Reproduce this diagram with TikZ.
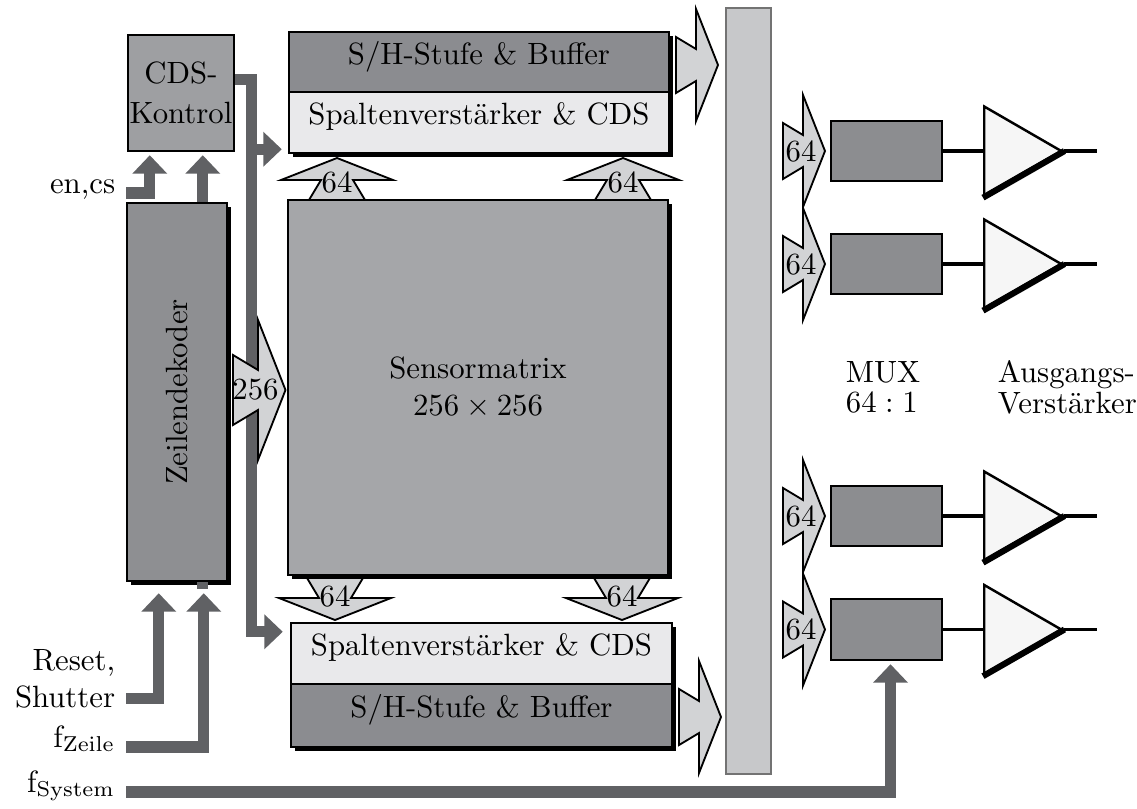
\documentclass[tikz,border=0pt]{standalone}
\usepackage{tikz}
\usetikzlibrary{calc,shadows,shapes.geometric,arrows.meta}

\definecolor{shgray}{RGB}{139,140,144}
\definecolor{splight}{RGB}{233,233,235}
\definecolor{matgray}{RGB}{165,166,169}
\definecolor{cdsgray}{RGB}{158,159,162}
\definecolor{decgray}{RGB}{142,143,146}
\definecolor{arrlight}{RGB}{210,211,213}
\definecolor{muxlight}{RGB}{199,200,202}
\definecolor{busgray}{RGB}{96,97,100}
\definecolor{muxgray}{RGB}{140,141,144}
\definecolor{ampwhite}{RGB}{246,246,246}

\def\unitpx{0.325pt}

\tikzset{
  blk/.style={draw=black, line width=0.8pt, inner sep=0pt},
  shadowed/.style={drop shadow={shadow xshift=1.4pt, shadow yshift=-1.4pt, fill=black, opacity=1}},
  stage/.style={blk, shadowed, text height=7pt, text depth=5.4pt},
  bus/.style={draw=busgray, line width=3.6pt, -{Triangle[width=11pt, length=6pt]}},
  busarr/.style={draw=black, line width=0.6pt, fill=arrlight, line join=miter},
  wire/.style={draw=black, line width=1pt},
  amp/.style={draw=black, line width=0.8pt, fill=ampwhite, shape=isosceles triangle,
    isosceles triangle stretches, minimum width=89*\unitpx, minimum height=77*\unitpx,
    inner sep=0pt, anchor=lower side},
  pics/busarrow/.style={code={
    \draw[busarr] (0,-28) -- (20,-16) -- (20,-56) -- (42,0) -- (20,56) -- (20,16) -- (0,28) -- cycle;
    \node[inner sep=0pt] (-lbl) at (18,0) {#1};
  }}
}

\begin{document}
\begin{tikzpicture}[x=\unitpx, y=-\unitpx]
\useasboundingbox (0,0) rectangle (1137,808);

% Readout chain above the matrix
\node[stage, fill=shgray, minimum width=380*\unitpx, minimum height=60*\unitpx] (shtop) at (479,62) {S/H-Stufe \& Buffer};
\node[stage, fill=splight, minimum width=380*\unitpx, minimum height=61*\unitpx] (sptop) at (479,122.5) {Spaltenverstärker \& CDS};

% Sensor matrix
\node[blk, shadowed, fill=matgray, minimum width=380*\unitpx, minimum height=375*\unitpx, align=center] (sensor) at (478,387.5) {Sensormatrix\\$256\times256$};

% Readout chain below the matrix
\node[stage, fill=splight, minimum width=381*\unitpx, minimum height=61*\unitpx] (spbot) at (481.5,653.5) {Spaltenverstärker \& CDS};
\node[stage, fill=shgray, minimum width=381*\unitpx, minimum height=63*\unitpx] (shbot) at (481.5,715.5) {S/H-Stufe \& Buffer};

% Control and row decoder
\node[blk, fill=cdsgray, minimum width=106*\unitpx, minimum height=116*\unitpx, align=center] (cds) at (181,93) {CDS-\\[1pt]Kontrol};
\node[blk, shadowed, fill=decgray, minimum width=100*\unitpx, minimum height=378*\unitpx] (dec) at (177,392) {\rotatebox{90}{Zeilendekoder}};

% Multiplexer bar and output stages
\node[draw=black!55, line width=0.5pt, fill=muxlight, minimum width=45*\unitpx, minimum height=766*\unitpx, inner sep=0pt] (mux) at (748.5,391) {};
\node[blk, fill=muxgray, minimum width=111*\unitpx, minimum height=60*\unitpx] (m1) at (886.5,151) {};
\node[blk, fill=muxgray, minimum width=111*\unitpx, minimum height=60*\unitpx] (m2) at (886.5,264) {};
\node[blk, fill=muxgray, minimum width=111*\unitpx, minimum height=60*\unitpx] (m3) at (886.5,516) {};
\node[blk, fill=muxgray, minimum width=111*\unitpx, minimum height=61*\unitpx] (m4) at (886.5,629.5) {};

\node[amp] (a1) at (983,151) {};
\node[amp] (a2) at (983,264) {};
\node[amp] (a3) at (983,516) {};
\node[amp] (a4) at (983,629.5) {};
\draw[line width=2pt] (a1.apex) -- (a1.right corner);
\draw[line width=2pt] (a2.apex) -- (a2.right corner);
\draw[line width=2pt] (a3.apex) -- (a3.right corner);
\draw[line width=2pt] (a4.apex) -- (a4.right corner);

\draw[wire] (m1.east) -- (a1.lower side);
\draw[wire] (m2.east) -- (a2.lower side);
\draw[wire] (m3.east) -- (a3.lower side);
\draw[wire] (m4.east) -- (a4.lower side);
\draw[wire] (a1.apex) -- ++(33,0);
\draw[wire] (a2.apex) -- ++(33,0);
\draw[wire] (a3.apex) -- ++(33,0);
\draw[wire] (a4.apex) -- ++(33,0);

\node[anchor=west, align=left] (muxlbl) at (835,387) {MUX\\[-2pt]$64:1$};
\node[anchor=west, align=left] (amplbl) at (987,387) {Ausgangs-\\[-2pt]Verstärker};

% Input labels
\node[anchor=base east] (encs) at (126,193) {en,cs};
\node[anchor=east, align=right] (reset) at (126,679) {Reset,\\Shutter};
\node[anchor=base east] (fz) at (126,747) {f$_\mathrm{Zeile}$};
\node[anchor=base east] (fsys) at (126,792) {f$_\mathrm{System}$};

% Control lines
\draw[bus] (encs.base east) -| ($(cds.south west)+(23,3)$);
\draw[bus] ($(dec.north west)+(77,0)$) -- ($(cds.south west)+(76,3)$);
\draw[bus] ($(cds.north east)+(0,46)$) -| ($(spbot.north west)+(-38.5,10)$) -- ($(spbot.north west)+(-7,10)$);
\draw[bus] ($(sptop.south west)+(-37,-5)$) -- ($(sptop.south west)+(-6,-5)$);
\draw[bus] ($(reset.east)+(0,19.5)$) -| ($(dec.south west)+(33,11)$);
\draw[bus] (fz.base east) -| ($(dec.south west)+(78,11)$);
\draw[bus] (fsys.base east) -| ($(m4.south)+(4,3)$);
\draw[draw=busgray, line width=3.4pt] ($(dec.south west)+(76.5,0)$) -- ++(0,7);

% Data buses
\pic[rotate=90] (up1) at (337,200) {busarrow=64};
\pic[rotate=90] (up2) at (623,200) {busarrow=64};
\pic[rotate=-90] (dn1) at (335,578) {busarrow=64};
\pic[rotate=-90] (dn2) at (622,578) {busarrow=64};
\pic (outtop) at (676,65) {busarrow={}};
\pic (outbot) at (679,717) {busarrow={}};
\pic[scale=1.25] (row) at (233,390) {busarrow=256};
\pic (in1) at (783,151) {busarrow=64};
\pic (in2) at (783,264) {busarrow=64};
\pic (in3) at (783,516) {busarrow=64};
\pic (in4) at (783,629.5) {busarrow=64};
\end{tikzpicture}
\end{document}
